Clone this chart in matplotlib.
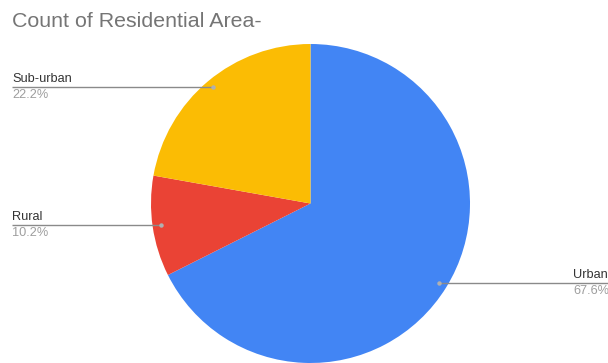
import numpy as np
import matplotlib
matplotlib.use("Agg")
import matplotlib.pyplot as plt

categories = ["Urban", "Rural", "Sub-urban"]
shares = [67.6, 10.2, 22.2]
pct_labels = ["67.6%", "10.2%", "22.2%"]
colors = ["#4285F4", "#EA4335", "#FBBC04"]

W, H = 608, 363
fig = plt.figure(figsize=(W / 100, H / 100), dpi=100)
ax = fig.add_axes([0, 0, 1, 1])

cx, cy, R = 310.5, H - 203.5, 159.5
wedges, _ = ax.pie(shares, colors=colors, startangle=90, counterclock=False,
                   center=(cx, cy), radius=R, frame=True,
                   wedgeprops=dict(linewidth=0))
ax.set_xlim(0, W)
ax.set_ylim(0, H)
ax.set_aspect("equal")
ax.axis("off")

font = "Liberation Sans"
fig.text(12 / W, 1 - 21.5 / H, "Count of Residential Area-", fontsize=15.4,
         color="#757575", family=font, va="center", ha="left")

# leader lines: from a dot inside each wedge out to the label column
for w, name, pct in zip(wedges, categories, pct_labels):
    mid = np.deg2rad((w.theta1 + w.theta2) / 2)
    dx, dy = cx + 0.95 * R * np.cos(mid), cy + 0.95 * R * np.sin(mid)
    if np.cos(mid) < 0:
        x_end, tx = 12, 12
    else:
        x_end, tx = W, 573
    ax.plot([dx, x_end], [dy, dy], color="#8a8a8a", lw=1.0, solid_capstyle="butt")
    ax.plot(dx, dy, "o", ms=3.2, color="#b0b0b0", mec="none")
    ax.text(tx, dy + 2.0, name, fontsize=9.2, color="#333333", family=font,
            ha="left", va="bottom")
    ax.text(tx, dy - 1.5, pct, fontsize=9.2, color="#9e9e9e", family=font,
            ha="left", va="top")

fig.savefig("out.png", dpi=100)
